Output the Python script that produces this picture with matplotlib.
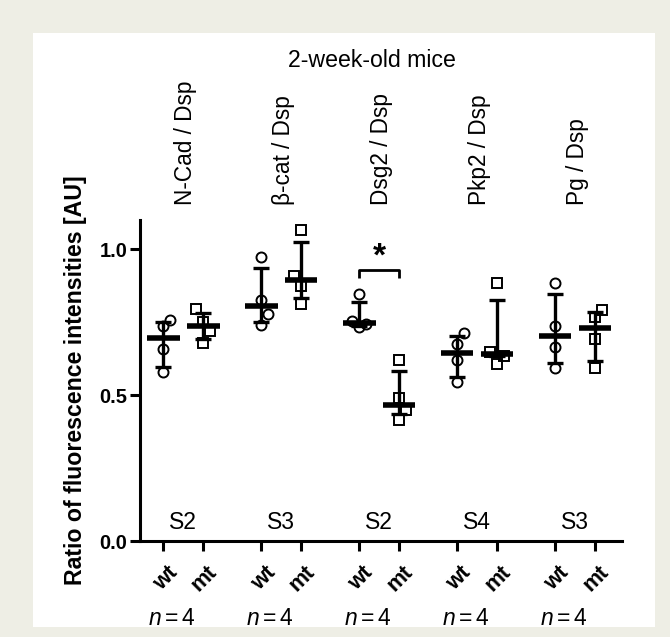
import numpy as np
import matplotlib.pyplot as plt
from matplotlib.patches import Rectangle
from matplotlib.transforms import blended_transform_factory

plt.rcParams['font.family'] = ['Liberation Sans', 'DejaVu Sans']
plt.rcParams['mathtext.fontset'] = 'custom'
plt.rcParams['mathtext.rm'] = 'Liberation Sans'
plt.rcParams['mathtext.it'] = 'Liberation Sans:italic'

# data
pairs = ['N-Cad / Dsp', 'β-cat / Dsp', 'Dsg2 / Dsp', 'Pkp2 / Dsp', 'Pg / Dsp']
stages = ['S2', 'S3', 'S2', 'S4', 'S3']
genotypes = ['wt', 'mt']
n_mice = [4, 4, 4, 4, 4]

wt_points = [
    [0.759, 0.736, 0.659, 0.580],
    [0.973, 0.827, 0.777, 0.739],
    [0.848, 0.755, 0.735, 0.745],
    [0.714, 0.674, 0.619, 0.545],
    [0.883, 0.736, 0.666, 0.592],
]
mt_points = [
    [0.795, 0.750, 0.718, 0.677],
    [1.066, 0.907, 0.875, 0.811],
    [0.620, 0.489, 0.449, 0.414],
    [0.884, 0.648, 0.634, 0.608],
    [0.793, 0.768, 0.693, 0.594],
]
wt_center = [0.695, 0.805, 0.746, 0.645, 0.702]
wt_low = [0.598, 0.752, 0.737, 0.562, 0.611]
wt_high = [0.750, 0.936, 0.820, 0.702, 0.845]
mt_center = [0.736, 0.895, 0.466, 0.642, 0.731]
mt_low = [0.691, 0.832, 0.434, 0.634, 0.617]
mt_high = [0.782, 1.025, 0.583, 0.825, 0.784]

# sideways nudge of overlapping symbols (-1 left, 1 right)
wt_nudge = [[1, 0, 0, 0], [0, 0, 1, 0], [0, -1, 0, 1], [1, 0, 0, 0], [0, 0, 0, 0]]
mt_nudge = [[-1, 0, 1, 0], [0, -1, 0, 0], [0, 0, 1, 0], [0, -1, 1, 0], [1, 0, 0, 0]]

significant = [2]  # Dsg2: wt vs mt, *

# figure with beige frame and white panel
fig = plt.figure(figsize=(6.7, 6.37), dpi=100, facecolor='#EEEEE5')
fig.patches.append(Rectangle((0.049, 0.016), 0.929, 0.932, transform=fig.transFigure,
                             facecolor='white', edgecolor='none', zorder=-10))
ax = fig.add_axes([0.209, 0.1507, 0.719, 0.5039])
ax.patch.set_alpha(0)

groups = np.arange(len(pairs))
half = 0.204
step = 0.075
x_wt = groups - half
x_mt = groups + half

for xs, pts, nudge, cen, lo, hi, mk, ms in [
        (x_wt, wt_points, wt_nudge, wt_center, wt_low, wt_high, 'o', 7.2),
        (x_mt, mt_points, mt_nudge, mt_center, mt_low, mt_high, 's', 6.6)]:
    cen = np.array(cen)
    ax.errorbar(xs, cen, yerr=[cen - np.array(lo), np.array(hi) - cen], fmt='none',
                ecolor='black', elinewidth=2.4, capsize=6, capthick=2.4, zorder=2)
    ax.hlines(cen, xs - 0.168, xs + 0.168, colors='black', linewidth=4.0, zorder=3)
    for i in range(len(xs)):
        px = xs[i] + step * np.array(nudge[i])
        ax.plot(px, pts[i], linestyle='none', marker=mk, ms=ms, mfc='none',
                mec='black', mew=1.4, zorder=4)

# significance bracket
for g in significant:
    ax.plot([x_wt[g], x_wt[g], x_mt[g], x_mt[g]], [0.903, 0.930, 0.930, 0.903],
            color='black', lw=2.0, solid_capstyle='butt')
    ax.text(groups[g], 0.945, '*', ha='center', va='baseline', fontsize=24,
            fontweight='bold')

ax.set_xlim(-0.439, 4.477)
ax.set_ylim(0, 1.1)
ax.set_yticks([0, 0.5, 1.0])
ax.set_yticklabels(['0.0', '0.5', '1.0'], fontweight='bold', fontsize=14.5)
ax.set_xticks(np.concatenate([x_wt, x_mt]))
ax.set_xticklabels([])
for s in ['top', 'right']:
    ax.spines[s].set_visible(False)
for s in ['left', 'bottom']:
    ax.spines[s].set_linewidth(2.2)
ax.tick_params(direction='out', length=7, width=2.2, pad=2)

ax.set_ylabel('Ratio of fluorescence intensities [AU]', fontweight='bold',
              fontsize=16.7, va='bottom')
ax.yaxis.set_label_coords(-0.11, 0.5)

trans = blended_transform_factory(ax.transData, ax.transAxes)

# stage labels inside the plot
for g in groups:
    ax.text(g, 0.062, stages[g], ha='center', va='center', fontsize=16.5)

# genotype labels and n below the axis
for g in groups:
    for xpos, name in zip([x_wt[g], x_mt[g]], genotypes):
        ax.annotate(name, xy=(xpos, 0), xycoords=trans, xytext=(2.6, -15),
                    textcoords='offset points', rotation=45, ha='right', va='top',
                    rotation_mode='anchor', fontweight='bold', fontsize=16)
    ax.annotate('$n = %d$' % n_mice[g], xy=(g, 0), xycoords=trans, xytext=(-8, -55.5),
                textcoords='offset points', ha='center', va='center', fontsize=16.5)

# pair names on top
for g in groups:
    ax.text(g + 0.03, 1.047, pairs[g], transform=trans, rotation=90, ha='center',
            va='bottom', fontsize=16.3)
ax.text(1.93, 1.498, '2-week-old mice', transform=trans, ha='center', va='center',
        fontsize=16.7)

fig.savefig('out.png', dpi=100, facecolor=fig.get_facecolor())
